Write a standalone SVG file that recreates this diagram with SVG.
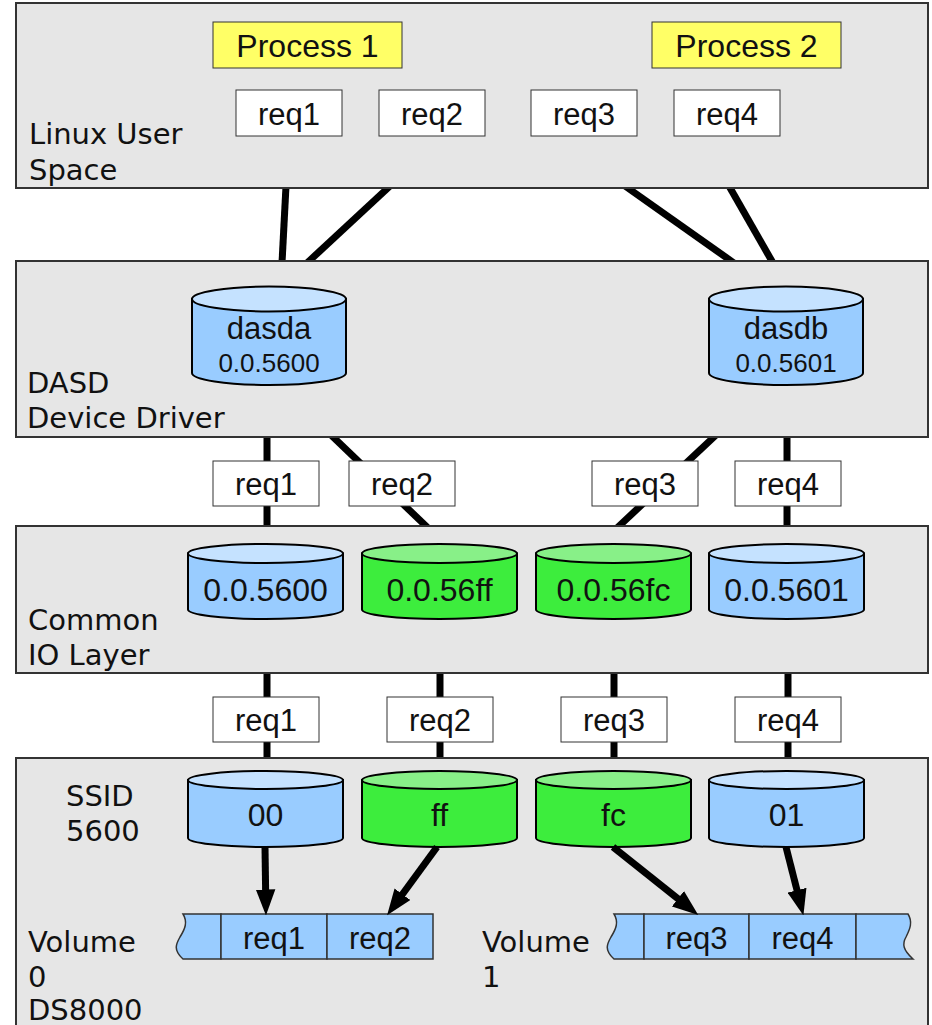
<svg xmlns="http://www.w3.org/2000/svg" width="932" height="1025" viewBox="0 0 932 1025">
<style>
.layer{fill:#e6e6e6;stroke:#333;stroke-width:2}
.lbl{font-family:"DejaVu Sans",sans-serif;font-size:29px;fill:#111}
.proc{fill:#ffff66;stroke:#333;stroke-width:1}
.req{fill:#fff;stroke:#333;stroke-width:1}
.t{font-family:"Liberation Sans",Arial,sans-serif;fill:#111;text-anchor:middle}
.t30{font-size:32px}
.t28{font-size:31px}
.t24{font-size:26px}
.conn{stroke:#000;stroke-width:7;fill:none}
.bodyB{fill:#99ccff;stroke:#000;stroke-width:2}
.topB{fill:#c5e2ff;stroke:#000;stroke-width:2}
.bodyG{fill:#3ded3d;stroke:#000;stroke-width:2}
.topG{fill:#88f088;stroke:#000;stroke-width:2}
.cell{fill:#99ccff;stroke:#333;stroke-width:1.5}
</style>
<defs>
<marker id="ah" markerUnits="userSpaceOnUse" markerWidth="26" markerHeight="20" refX="6" refY="9" orient="auto" viewBox="0 0 24 18">
<path d="M0,0 L24,9 L0,18 z" fill="#000"/>
</marker>
</defs>
<rect width="932" height="1025" fill="#fff"/>

<g id="connectors">
<line class="conn" x1="286" y1="186" x2="282" y2="263"/>
<line class="conn" x1="390" y1="186" x2="307" y2="263"/>
<line class="conn" x1="625" y1="186" x2="734" y2="263"/>
<line class="conn" x1="729" y1="186" x2="773" y2="263"/>
<line class="conn" x1="267" y1="435" x2="267" y2="528"/>
<line class="conn" x1="331" y1="435" x2="428" y2="528"/>
<line class="conn" x1="716" y1="435" x2="617" y2="528"/>
<line class="conn" x1="787" y1="435" x2="787" y2="528"/>
<line class="conn" x1="267" y1="671" x2="267" y2="760"/>
<line class="conn" x1="440" y1="671" x2="440" y2="760"/>
<line class="conn" x1="614" y1="671" x2="614" y2="760"/>
<line class="conn" x1="788" y1="671" x2="788" y2="760"/>
</g>

<g id="layer-user">
<rect class="layer" x="16" y="3" width="912" height="185"/>
<text class="lbl" x="29" y="144">Linux User</text>
<text class="lbl" x="29" y="180">Space</text>
</g>
<g id="process1"><rect class="proc" x="213" y="22" width="189" height="46"/><text class="t t30" x="307.5" y="57">Process 1</text></g>
<g id="process2"><rect class="proc" x="652" y="22" width="189" height="46"/><text class="t t30" x="746.5" y="57">Process 2</text></g>
<g id="u-req1"><rect class="req" x="236" y="90" width="106" height="46"/><text class="t t28" x="289" y="125">req1</text></g>
<g id="u-req2"><rect class="req" x="379" y="90" width="106" height="46"/><text class="t t28" x="432" y="125">req2</text></g>
<g id="u-req3"><rect class="req" x="531" y="90" width="106" height="46"/><text class="t t28" x="584" y="125">req3</text></g>
<g id="u-req4"><rect class="req" x="674" y="90" width="106" height="46"/><text class="t t28" x="727" y="125">req4</text></g>

<g id="layer-dasd">
<rect class="layer" x="16" y="261" width="912" height="176"/>
<text class="lbl" x="27" y="393">DASD</text>
<text class="lbl" x="27" y="428">Device Driver</text>
</g>
<g id="dasda">
<path class="bodyB" d="M192,299 L192,373 A77,12 0 0 0 346,373 L346,299 Z"/>
<ellipse class="topB" cx="269" cy="299" rx="77" ry="12.5"/>
<text class="t t28" x="269" y="339">dasda</text>
<text class="t t24" x="269" y="372">0.0.5600</text>
</g>
<g id="dasdb">
<path class="bodyB" d="M709,299 L709,373 A77,12 0 0 0 863,373 L863,299 Z"/>
<ellipse class="topB" cx="786" cy="299" rx="77" ry="12.5"/>
<text class="t t28" x="786" y="339">dasdb</text>
<text class="t t24" x="786" y="372">0.0.5601</text>
</g>

<g id="m-req1"><rect class="req" x="213" y="461" width="106" height="45"/><text class="t t28" x="266" y="495">req1</text></g>
<g id="m-req2"><rect class="req" x="349" y="461" width="106" height="45"/><text class="t t28" x="402" y="495">req2</text></g>
<g id="m-req3"><rect class="req" x="592" y="461" width="106" height="45"/><text class="t t28" x="645" y="495">req3</text></g>
<g id="m-req4"><rect class="req" x="735" y="461" width="106" height="45"/><text class="t t28" x="788" y="495">req4</text></g>

<g id="layer-cio">
<rect class="layer" x="16" y="526" width="912" height="147"/>
<text class="lbl" x="28" y="630">Common</text>
<text class="lbl" x="28" y="665">IO Layer</text>
</g>
<g id="cio-5600">
<path class="bodyB" d="M188,553.5 L188,609.5 A77.5,9.5 0 0 0 343,609.5 L343,553.5 Z"/>
<ellipse class="topB" cx="265.5" cy="553.5" rx="77.5" ry="9.5"/>
<text class="t t30" x="265.5" y="601">0.0.5600</text>
</g>
<g id="cio-56ff">
<path class="bodyG" d="M362,553.5 L362,609.5 A77.5,9.5 0 0 0 517,609.5 L517,553.5 Z"/>
<ellipse class="topG" cx="439.5" cy="553.5" rx="77.5" ry="9.5"/>
<text class="t t30" x="439.5" y="601">0.0.56ff</text>
</g>
<g id="cio-56fc">
<path class="bodyG" d="M536,553.5 L536,609.5 A77.5,9.5 0 0 0 691,609.5 L691,553.5 Z"/>
<ellipse class="topG" cx="613.5" cy="553.5" rx="77.5" ry="9.5"/>
<text class="t t30" x="613.5" y="601">0.0.56fc</text>
</g>
<g id="cio-5601">
<path class="bodyB" d="M709,553.5 L709,609.5 A77.5,9.5 0 0 0 864,609.5 L864,553.5 Z"/>
<ellipse class="topB" cx="786.5" cy="553.5" rx="77.5" ry="9.5"/>
<text class="t t30" x="786.5" y="601">0.0.5601</text>
</g>

<g id="l-req1"><rect class="req" x="213" y="697" width="106" height="45"/><text class="t t28" x="266" y="731">req1</text></g>
<g id="l-req2"><rect class="req" x="387" y="697" width="106" height="45"/><text class="t t28" x="440" y="731">req2</text></g>
<g id="l-req3"><rect class="req" x="561" y="697" width="106" height="45"/><text class="t t28" x="614" y="731">req3</text></g>
<g id="l-req4"><rect class="req" x="735" y="697" width="106" height="45"/><text class="t t28" x="788" y="731">req4</text></g>

<g id="layer-ds8000">
<rect class="layer" x="16" y="758" width="912" height="280"/>
<text class="lbl" x="66" y="806">SSID</text>
<text class="lbl" x="66" y="841">5600</text>
<text class="lbl" x="28" y="952">Volume</text>
<text class="lbl" x="28" y="987">0</text>
<text class="lbl" x="28" y="1020">DS8000</text>
<text class="lbl" x="482" y="952">Volume</text>
<text class="lbl" x="482" y="987">1</text>
</g>
<g id="ssid-00">
<path class="bodyB" d="M188,780 L188,838 A77.5,9 0 0 0 343,838 L343,780 Z"/>
<ellipse class="topB" cx="265.5" cy="780" rx="77.5" ry="9"/>
<text class="t t30" x="265.5" y="826">00</text>
</g>
<g id="ssid-ff">
<path class="bodyG" d="M362,780 L362,838 A77.5,9 0 0 0 517,838 L517,780 Z"/>
<ellipse class="topG" cx="439.5" cy="780" rx="77.5" ry="9"/>
<text class="t t30" x="439.5" y="826">ff</text>
</g>
<g id="ssid-fc">
<path class="bodyG" d="M536,780 L536,838 A77.5,9 0 0 0 691,838 L691,780 Z"/>
<ellipse class="topG" cx="613.5" cy="780" rx="77.5" ry="9"/>
<text class="t t30" x="613.5" y="826">fc</text>
</g>
<g id="ssid-01">
<path class="bodyB" d="M709,780 L709,838 A77.5,9 0 0 0 864,838 L864,780 Z"/>
<ellipse class="topB" cx="786.5" cy="780" rx="77.5" ry="9"/>
<text class="t t30" x="786.5" y="826">01</text>
</g>

<g id="volume0">
<path class="cell" d="M183,914 L221,914 L221,959 L183,959 C173,950 176,944 180,937 C185,929 188,922 183,914 Z"/>
<rect class="cell" x="221" y="914" width="106" height="45"/>
<rect class="cell" x="327" y="914" width="106" height="45"/>
<text class="t t28" x="274" y="949">req1</text>
<text class="t t28" x="380" y="949">req2</text>
</g>
<g id="volume1">
<path class="cell" d="M614,914 L644,914 L644,959 L614,959 C604,950 607,944 611,937 C616,929 619,922 614,914 Z"/>
<rect class="cell" x="644" y="914" width="105" height="45"/>
<rect class="cell" x="749" y="914" width="107" height="45"/>
<path class="cell" d="M856,914 L908,914 C913,922 910,929 906,937 C902,944 903,950 913,959 L856,959 Z"/>
<text class="t t28" x="696.5" y="949">req3</text>
<text class="t t28" x="802.5" y="949">req4</text>
</g>

<g id="arrows">
<line class="conn" x1="265" y1="847" x2="265.7" y2="896" marker-end="url(#ah)"/>
<line class="conn" x1="437" y1="847" x2="398.6" y2="899.5" marker-end="url(#ah)"/>
<line class="conn" x1="613" y1="847" x2="683" y2="902.8" marker-end="url(#ah)"/>
<line class="conn" x1="786" y1="847" x2="798.6" y2="896.5" marker-end="url(#ah)"/>
</g>
</svg>
